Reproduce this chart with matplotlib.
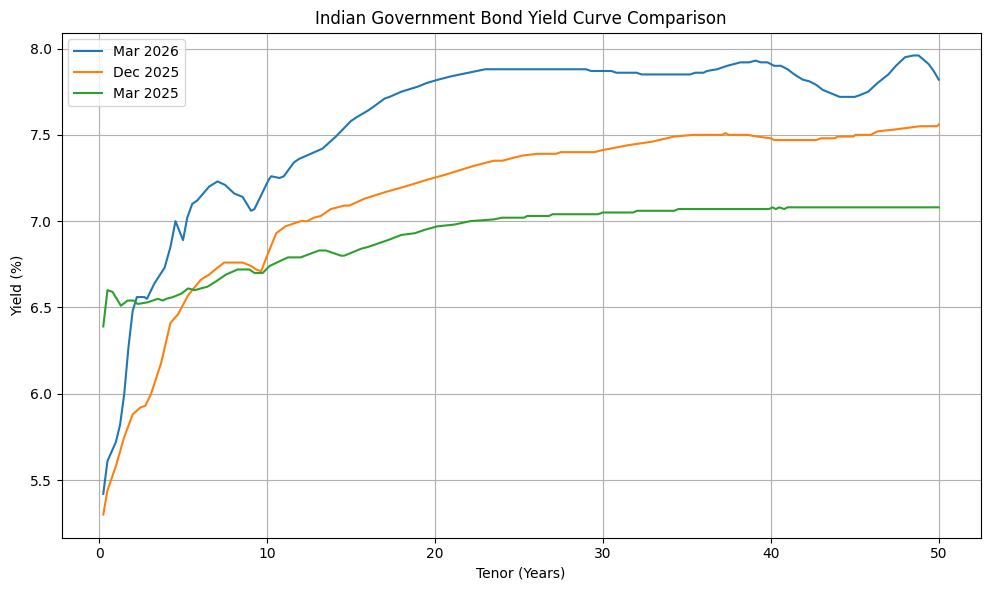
import matplotlib
matplotlib.use("Agg")
import matplotlib.pyplot as plt

tenor_mar2026 = [0.25, 0.5, 1.0, 1.25, 1.5, 1.75, 2.0, 2.25, 2.7, 2.85, 3.3, 3.7, 3.9, 4.25, 4.55,
                 5.0, 5.25, 5.55, 5.85, 6.55, 7.05, 7.5, 8.05, 8.55, 9.05, 9.25, 9.65, 10.1, 10.25, 10.75,
                 11.0, 11.6, 11.9, 13.3, 14.1, 15.0, 15.3, 16.0, 16.3, 17.0, 17.3, 18.0, 19.0, 19.5, 20.2,
                 21.0, 21.5, 22.0, 22.5, 23.0, 29.0, 29.3, 30.5, 30.8, 32.0, 32.3, 35.2, 35.5, 36.0, 36.2,
                 36.8, 37.4, 38.2, 38.7, 39.1, 39.4, 39.8, 40.2, 40.6, 41.0, 41.4, 41.9, 42.3, 42.7, 43.1,
                 43.6, 44.1, 45.0, 45.3, 45.8, 46.35, 47.0, 47.45, 48.0, 48.5, 48.8, 49.4, 49.7, 50.0]
yield_mar2026 = [5.42, 5.61, 5.72, 5.82, 6.00, 6.27, 6.48, 6.56, 6.56, 6.55, 6.64, 6.70, 6.73, 6.85, 7.00,
                 6.89, 7.02, 7.10, 7.12, 7.20, 7.23, 7.21, 7.16, 7.14, 7.06, 7.07, 7.15, 7.24, 7.26, 7.25,
                 7.26, 7.34, 7.36, 7.42, 7.49, 7.58, 7.60, 7.64, 7.66, 7.71, 7.72, 7.75, 7.78, 7.80, 7.82,
                 7.84, 7.85, 7.86, 7.87, 7.88, 7.88, 7.87, 7.87, 7.86, 7.86, 7.85, 7.85, 7.86, 7.86, 7.87,
                 7.88, 7.90, 7.92, 7.92, 7.93, 7.92, 7.92, 7.90, 7.90, 7.88, 7.85, 7.82, 7.81, 7.79, 7.76,
                 7.74, 7.72, 7.72, 7.73, 7.75, 7.80, 7.85, 7.90, 7.95, 7.96, 7.96, 7.91, 7.87, 7.82]

tenor_dec2025 = [0.25, 0.5, 1.0, 1.5, 2.0, 2.45, 2.75, 3.1, 3.7, 4.25, 4.7, 5.3, 6.05, 6.55, 7.05,
                 7.45, 8.55, 9.05, 9.35, 9.65, 10.05, 10.55, 11.1, 12.0, 12.4, 12.8, 13.2, 13.8, 14.6, 14.9,
                 15.8, 17.1, 18.2, 19.55, 20.65, 22.3, 23.5, 24.0, 25.2, 26.1, 27.2, 27.5, 29.5, 29.9, 31.5,
                 32.9, 34.25, 35.4, 37.1, 37.3, 37.5, 38.6, 39.2, 40.0, 40.2, 42.7, 43.0, 43.8, 44.0, 44.9,
                 45.05, 45.95, 46.35, 47.3, 48.1, 48.9, 49.9, 50.0]
yield_dec2025 = [5.30, 5.44, 5.58, 5.75, 5.88, 5.92, 5.93, 6.00, 6.18, 6.41, 6.46, 6.57, 6.66, 6.69, 6.73,
                 6.76, 6.76, 6.74, 6.72, 6.71, 6.81, 6.93, 6.97, 7.00, 7.00, 7.02, 7.03, 7.07, 7.09, 7.09,
                 7.13, 7.17, 7.20, 7.24, 7.27, 7.32, 7.35, 7.35, 7.38, 7.39, 7.39, 7.40, 7.40, 7.41, 7.44,
                 7.46, 7.49, 7.50, 7.50, 7.51, 7.50, 7.50, 7.49, 7.48, 7.47, 7.47, 7.48, 7.48, 7.49, 7.49,
                 7.50, 7.50, 7.52, 7.53, 7.54, 7.55, 7.55, 7.56]

tenor_mar2025 = [0.25, 0.5, 0.8, 1.3, 1.7, 2.05, 2.3, 2.9, 3.5, 3.8, 4.0, 4.4, 4.9, 5.3, 5.7,
                 6.05, 6.45, 6.95, 7.55, 8.25, 8.95, 9.25, 9.75, 10.15, 10.8, 11.25, 12.0, 13.1, 13.5, 14.4,
                 14.6, 15.6, 16.0, 17.2, 18.0, 18.8, 19.4, 20.15, 21.15, 22.1, 23.5, 24.0, 25.3, 25.5, 26.8,
                 27.0, 29.7, 30.0, 31.8, 32.05, 34.25, 34.5, 39.9, 40.1, 40.3, 40.5, 40.8, 41.0, 50.0]
yield_mar2025 = [6.39, 6.60, 6.59, 6.51, 6.54, 6.54, 6.52, 6.53, 6.55, 6.54, 6.55, 6.56, 6.58, 6.61, 6.60,
                 6.61, 6.62, 6.65, 6.69, 6.72, 6.72, 6.70, 6.70, 6.74, 6.77, 6.79, 6.79, 6.83, 6.83, 6.80,
                 6.80, 6.84, 6.85, 6.89, 6.92, 6.93, 6.95, 6.97, 6.98, 7.00, 7.01, 7.02, 7.02, 7.03, 7.03,
                 7.04, 7.04, 7.05, 7.05, 7.06, 7.06, 7.07, 7.07, 7.08, 7.07, 7.08, 7.07, 7.08, 7.08]

labels = ["Mar 2026", "Dec 2025", "Mar 2025"]

fig, ax = plt.subplots(figsize=(9.89, 5.9), dpi=100)
ax.plot(tenor_mar2026, yield_mar2026, label=labels[0], color="#1f77b4", linewidth=1.5)
ax.plot(tenor_dec2025, yield_dec2025, label=labels[1], color="#ff7f0e", linewidth=1.5)
ax.plot(tenor_mar2025, yield_mar2025, label=labels[2], color="#2ca02c", linewidth=1.5)
ax.set_title("Indian Government Bond Yield Curve Comparison")
ax.set_xlabel("Tenor (Years)")
ax.set_ylabel("Yield (%)")
ax.grid(True)
ax.legend(loc="upper left")
fig.subplots_adjust(left=61.5 / 989, right=980.5 / 989, top=1 - 32.5 / 590, bottom=1 - 537.5 / 590)
fig.savefig("out.png", dpi=100)
